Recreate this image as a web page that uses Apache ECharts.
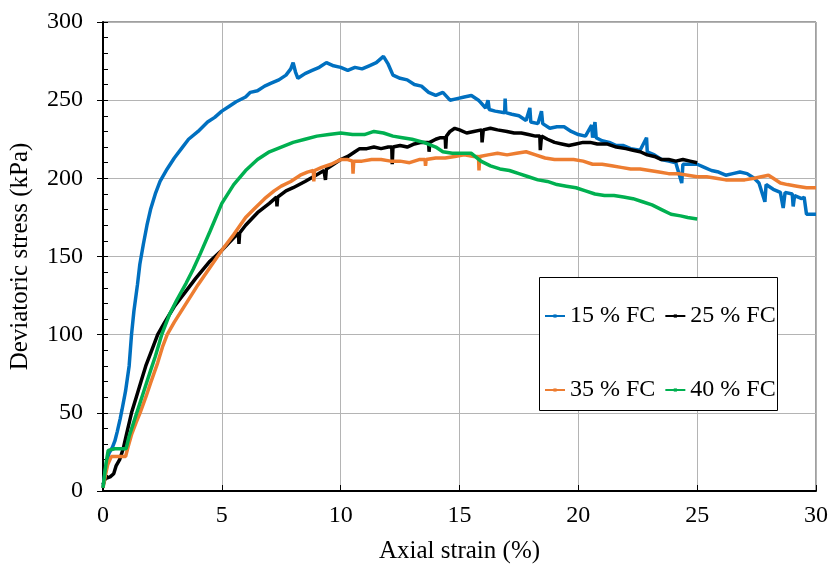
<!DOCTYPE html>
<html><head><meta charset="utf-8">
<script src="https://cdn.jsdelivr.net/npm/echarts@6/dist/echarts.min.js"></script>
<style>html,body{margin:0;padding:0;background:#fff}#c{width:831px;height:564px}</style>
</head><body><div id="c"></div>
<script>
const seriesNames = ['15 % FC', '25 % FC', '35 % FC', '40 % FC'];
const xTicks = [0, 5, 10, 15, 20, 25, 30];
const yTicks = [0, 50, 100, 150, 200, 250, 300];

const fc15 = [[0,2],[0.05,8],[0.15,18],[0.25,24],[0.4,28],[0.5,32],[0.6,38],[0.72,46],[0.8,52],[0.95,64],[1.1,80],[1.2,100],[1.3,115],[1.45,132],[1.55,145],[1.7,158],[1.85,170],[2.0,180],[2.2,190],[2.4,198],[2.7,206],[3.0,213],[3.3,219],[3.6,225],[4.0,230],[4.4,236],[4.7,239],[5.0,243],[5.3,246],[5.6,249],[6.0,252],[6.2,255],[6.5,256],[6.8,259],[7.1,261],[7.4,263],[7.7,266],[7.9,270],[8.0,274],[8.1,268],[8.2,264],[8.5,267],[8.8,269],[9.1,271],[9.4,274],[9.7,272],[10.0,271],[10.3,269],[10.6,271],[10.9,270],[11.2,272],[11.5,274],[11.8,278],[12.0,273],[12.2,266],[12.5,264],[12.8,263],[13.1,260],[13.4,259],[13.7,255],[14.0,253],[14.3,255],[14.6,250],[14.9,251],[15.2,252],[15.5,253],[15.8,250],[16.1,245],[16.2,250],[16.25,244],[16.5,243],[16.9,242],[16.92,251],[16.95,242],[17.2,241],[17.5,240],[17.8,237],[17.96,245],[18.0,236],[18.3,235],[18.45,243],[18.5,235],[18.8,232],[19.1,233],[19.4,233],[19.7,230],[20.0,228],[20.3,227],[20.56,234],[20.6,226],[20.7,236],[20.75,226],[21.0,224],[21.3,223],[21.6,221],[21.9,221],[22.2,219],[22.6,218],[22.87,226],[22.9,217],[23.2,215],[23.5,212],[23.8,211],[24.1,210],[24.35,197],[24.4,209],[24.7,209],[25.0,209],[25.3,207],[25.6,205],[25.9,204],[26.2,202],[26.5,203],[26.8,204],[27.1,203],[27.4,200],[27.6,197],[27.85,185],[27.9,196],[28.2,193],[28.5,191],[28.62,181],[28.7,191],[29.0,190],[29.04,182],[29.1,189],[29.4,187],[29.5,188],[29.6,177],[30,177]];

const fc25 = [[0,4],[0.1,8],[0.3,9],[0.45,11],[0.55,16],[0.7,20],[0.85,27],[1.0,37],[1.2,50],[1.4,60],[1.6,70],[1.8,80],[2.05,90],[2.3,100],[2.6,108],[3.0,118],[3.5,128],[3.9,136],[4.5,147],[5.0,154],[5.5,162],[5.7,165],[5.72,158],[5.75,165],[6.0,170],[6.5,178],[7.0,184],[7.3,188],[7.32,182],[7.35,188],[7.7,192],[8.0,194],[8.5,198],[8.85,201],[9.3,205],[9.34,205],[9.36,199],[9.4,206],[9.7,209],[10.0,212],[10.3,214],[10.6,217],[10.8,219],[11.1,219],[11.4,220],[11.7,219],[12.0,220],[12.15,220],[12.17,209],[12.2,220],[12.5,221],[12.8,220],[13.1,222],[13.4,223],[13.7,223],[13.72,217],[13.75,223],[14.0,225],[14.2,226],[14.4,226],[14.42,219],[14.45,227],[14.6,230],[14.8,232],[15.0,231],[15.3,229],[15.6,230],[15.93,231],[15.95,223],[16.0,231],[16.3,232],[16.6,231],[17.0,230],[17.3,229],[17.6,229],[17.9,228],[18.2,227],[18.38,227],[18.4,218],[18.45,227],[18.7,225],[19.0,223],[19.3,222],[19.6,221],[19.9,222],[20.2,223],[20.5,223],[20.8,222],[21.2,222],[21.6,220],[22.0,219],[22.3,218],[22.6,217],[22.9,215],[23.2,214],[23.5,212],[23.8,212],[24.1,211],[24.4,212],[24.7,211],[25.0,210]];

const fc35 = [[0,2],[0.1,10],[0.2,17],[0.35,22],[0.6,22],[0.95,22],[1.05,28],[1.2,36],[1.4,44],[1.56,50],[1.8,60],[2.0,69],[2.3,82],[2.5,92],[2.7,100],[3.0,108],[3.5,120],[4.0,132],[4.5,143],[5.0,154],[5.5,164],[6.0,175],[6.4,181],[6.8,187],[7.2,192],[7.5,195],[7.9,198],[8.3,202],[8.6,204],[8.85,205],[8.87,198],[8.9,205],[9.2,207],[9.6,209],[10.0,212],[10.3,212],[10.5,211],[10.52,203],[10.55,211],[10.9,211],[11.3,212],[11.7,212],[12.1,211],[12.5,211],[12.9,210],[13.3,212],[13.55,212],[13.57,208],[13.6,212],[14.0,213],[14.4,213],[14.8,214],[15.2,215],[15.6,214],[15.8,214],[15.82,205],[15.85,214],[16.2,215],[16.6,216],[17.0,215],[17.4,216],[17.8,217],[18.2,215],[18.6,213],[19.0,212],[19.4,212],[19.8,212],[20.2,211],[20.6,209],[21.0,209],[21.4,208],[21.8,207],[22.2,206],[22.6,206],[23.0,205],[23.4,204],[23.8,203],[24.2,203],[24.6,202],[25.0,201],[25.4,201],[25.8,200],[26.2,199],[26.6,199],[27.0,199],[27.4,200],[27.7,201],[28.0,202],[28.2,200],[28.5,197],[28.8,196],[29.2,195],[29.6,194],[30,194]];

const fc40 = [[0,2],[0.08,12],[0.15,20],[0.22,26],[0.5,27],[0.97,27],[1.1,35],[1.25,42],[1.42,50],[1.7,63],[2.0,77],[2.2,86],[2.47,100],[2.8,113],[3.1,122],[3.5,133],[3.8,142],[4.1,152],[4.5,166],[5.0,184],[5.5,196],[6.0,205],[6.5,212],[7.0,217],[7.5,220],[8.0,223],[8.5,225],[9.0,227],[9.5,228],[10.0,229],[10.5,228],[11.0,228],[11.4,230],[11.8,229],[12.2,227],[12.6,226],[13.0,225],[13.5,223],[14.0,220],[14.3,217],[14.7,216],[15.1,216],[15.5,216],[15.9,211],[16.3,208],[16.7,206],[17.1,205],[17.5,203],[17.9,201],[18.3,199],[18.7,198],[19.1,196],[19.5,195],[19.9,194],[20.3,192],[20.7,190],[21.1,189],[21.5,189],[21.9,188],[22.3,187],[22.7,185],[23.1,183],[23.5,180],[23.9,177],[24.3,176],[24.6,175],[25.0,174]];

const colors = ['#0070C0', '#000000', '#ED7D31', '#00B050'];
const allData = [fc15, fc25, fc35, fc40];
const FONT = 'Liberation Serif';

const chart = echarts.init(document.getElementById('c'), null, {renderer: 'canvas'});
const series = allData.map((d, i) => ({
  name: seriesNames[i], type: 'line', data: d, showSymbol: false,
  symbol: 'rect', symbolSize: 3, color: colors[i],
  lineStyle: {width: 3.5, color: colors[i]}, animation: false, z: 2 + i
}));
const legendText = {fontFamily: FONT, fontSize: 24, color: '#000'};
chart.setOption({
  animation: false,
  grid: {left: 103, right: 15, top: 22, bottom: 73, show: true, borderColor: '#404040', borderWidth: 1,
         outerBoundsMode: 'none', containLabel: false},
  xAxis: {
    type: 'value', min: xTicks[0], max: xTicks[xTicks.length - 1], interval: 5,
    name: 'Axial strain (%)', nameLocation: 'middle', nameGap: 48,
    nameTextStyle: {fontFamily: FONT, fontSize: 25, color: '#000'},
    axisLine: {lineStyle: {color: '#000', width: 2}},
    axisTick: {inside: true, length: 6, lineStyle: {color: '#000'}},
    axisLabel: {fontFamily: FONT, fontSize: 24, color: '#000', margin: 13},
    splitLine: {lineStyle: {color: '#b4b4b4', width: 1}}
  },
  yAxis: [{
    type: 'value', min: yTicks[0], max: yTicks[yTicks.length - 1], interval: 50,
    name: 'Deviatoric stress (kPa)', nameLocation: 'middle', nameGap: 70,
    nameTextStyle: {fontFamily: FONT, fontSize: 25, color: '#000'},
    axisLine: {lineStyle: {color: '#000', width: 2}},
    axisTick: {inside: false, length: 6, lineStyle: {color: '#000'}},
    axisLabel: {fontFamily: FONT, fontSize: 24, color: '#000', margin: 20},
    splitLine: {lineStyle: {color: '#b4b4b4', width: 1}}
  }, {
    type: 'value', min: 0, max: 300, interval: 10, position: 'left',
    axisLine: {show: false}, axisLabel: {show: false}, splitLine: {show: false},
    axisTick: {inside: true, length: 5, lineStyle: {color: '#000'}}
  }],
  legend: [{
    data: seriesNames.slice(0, 2), left: 539, top: 299, itemGap: 9, itemWidth: 20, itemHeight: 4,
    z: 20, textStyle: legendText
  }, {
    data: seriesNames.slice(2, 4), left: 539, top: 373, itemGap: 9, itemWidth: 20, itemHeight: 4,
    z: 20, textStyle: legendText
  }],
  graphic: [{
    type: 'rect', left: 539, top: 277, shape: {width: 238, height: 133},
    style: {fill: '#fff', stroke: '#000', lineWidth: 1}, z: 1, zlevel: 0
  }],
  series: series
});
</script></body></html>
